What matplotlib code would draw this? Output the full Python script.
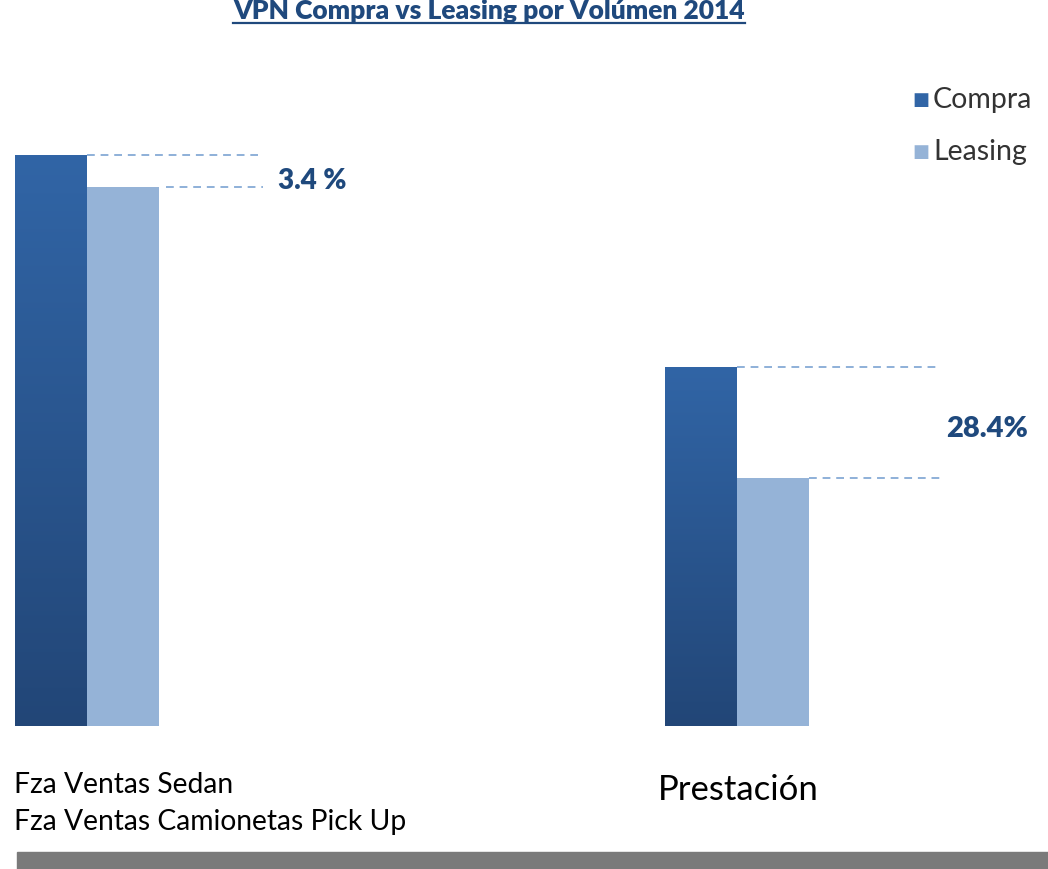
import numpy as np
import matplotlib.pyplot as plt
from matplotlib.colors import LinearSegmentedColormap

# values (relative bar heights, Compra group 1 = 100)
categories = ["Fza Ventas Sedan\nFza Ventas Camionetas Pick Up", "Prestación"]
compra = [100.0, 62.9]
leasing = [94.4, 43.4]
diff_labels = ["3.4 %", "28.4%"]
series_names = ["Compra", "Leasing"]

dark_top = "#3165a6"
dark_bottom = "#224677"
light = "#95b3d7"
dash_col = "#8eb0d8"
text_blue = "#1f497d"

plt.rcParams['font.family'] = ['Lato', 'DejaVu Sans']

fig = plt.figure(figsize=(10.48, 8.70), dpi=100)
fig.patch.set_facecolor("white")

# plot area: bottom of bars at 727px, top of tallest bar at 156px
ax = fig.add_axes([0, (870 - 727) / 870, 1, 571 / 870])
ax.axis("off")

x = np.arange(len(categories))
w = 72 / 650

bars_c = ax.bar(x - w / 2, compra, w, color=dark_top, zorder=2)
bars_l = ax.bar(x + w / 2, leasing, w, color=light, zorder=2)

# vertical gradient on the Compra bars
cmap = LinearSegmentedColormap.from_list("g", [dark_bottom, dark_top])
grad = np.linspace(0, 1, 256).reshape(-1, 1)
for b in bars_c:
    bx, by = b.get_x(), b.get_y()
    im = ax.imshow(grad, cmap=cmap, aspect="auto", origin="lower",
                   extent=[bx, bx + b.get_width(), by, by + b.get_height()], zorder=3)
    im.set_clip_path(b)
ax.set_xlim(-87 / 650, (1048 - 87) / 650)
ax.set_ylim(0, 100)

# dashed reference lines
line_len = [(171 / 650, 97 / 650), (203 / 650, 133 / 650)]
gap = [7 / 650, 0]
for i in range(len(categories)):
    c_right = x[i]
    l_right = x[i] + w
    ax.plot([c_right, c_right + line_len[i][0]], [compra[i]] * 2, ls=(0, (4, 3)),
            color=dash_col, lw=1.4, zorder=1, clip_on=False)
    ax.plot([l_right + gap[i], l_right + gap[i] + line_len[i][1]], [leasing[i]] * 2,
            ls=(0, (4, 3)), color=dash_col, lw=1.4, zorder=1, clip_on=False)

# percentage labels
ax.text(x[0] + 191 / 650, leasing[0] + 1.2, diff_labels[0], ha="left",
        va="center", fontsize=20, fontweight="heavy", color=text_blue)
ax.text(x[1] + 209 / 650, (compra[1] + leasing[1]) / 2 - 0.9, diff_labels[1], ha="left",
        va="center", fontsize=21, fontweight="heavy", color=text_blue)

# category labels
lines = categories[0].split("\n")
fig.text(14 / 1048, 1 - 785 / 870, lines[0], ha="left", va="center",
         fontsize=20.3, color="black")
fig.text(14 / 1048, 1 - 822 / 870, lines[1], ha="left", va="center",
         fontsize=20.3, color="black")
fig.text(658 / 1048, 1 - 790 / 870, categories[1], ha="left", va="center",
         fontsize=25, color="black")

# title
fig.text(489 / 1048, 1 - 11 / 870, "VPN Compra vs Leasing por Volúmen 2014",
         ha="center", va="center", fontsize=19, fontweight="heavy", color=text_blue)
fig.add_artist(plt.Line2D([233 / 1048, 745 / 1048], [1 - 24 / 870] * 2,
                          color=text_blue, lw=1.6))

# legend
for j, (name, col) in enumerate(zip(series_names, [dark_top, light])):
    yy = 1 - (100 + 52 * j) / 870
    fig.text(912 / 1048, yy, "\u25a0", ha="left", va="center", fontsize=13, color=col,
             family="DejaVu Sans")
    fig.text(933 / 1048, yy, name, ha="left", va="center", fontsize=20.5, color="#333333")

# gray band at bottom
fig.add_artist(plt.Rectangle((17 / 1048, 0), 1, 17 / 870, color="#7a7a7a",
                             transform=fig.transFigure))

fig.savefig("out.png", dpi=100)
